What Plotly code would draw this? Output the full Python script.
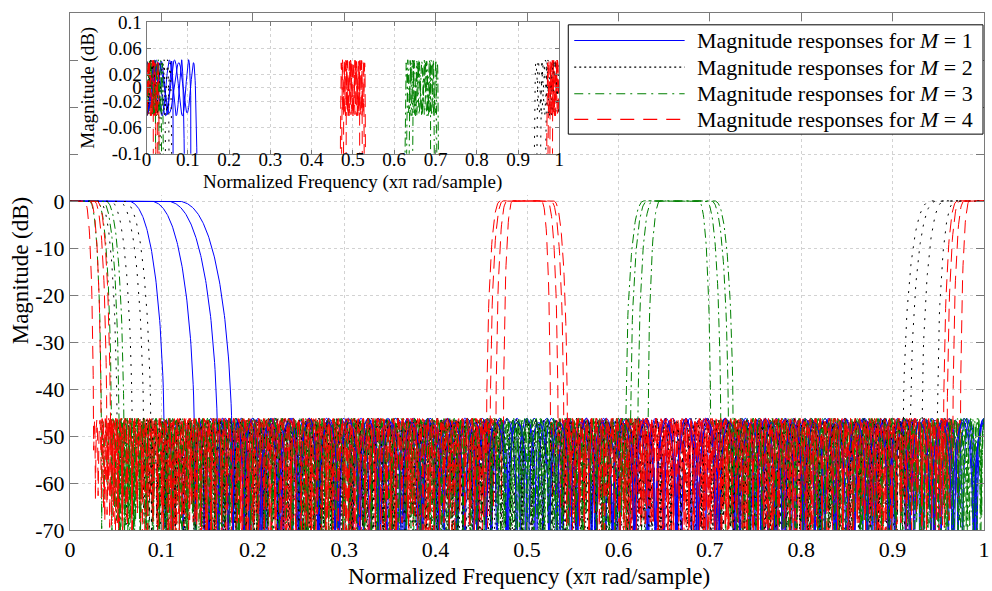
import numpy as np
import plotly.graph_objects as go

# ---- values ----
M_values = [1, 2, 3, 4]                        # interpolation factors (one legend entry each)
passband_edges = [0.065, 0.090, 0.108, 0.120]  # prototype low-pass passband edges (x pi)
stopband_edges = [0.103, 0.136, 0.161, 0.177]  # prototype low-pass stopband edges (x pi)
stopband_atten_db = 46.0                       # equiripple stop-band level
n_freq_points = 2048                           # frequency samples per response
series_names = ["Magnitude responses for <i>M</i> = 1",
                "Magnitude responses for <i>M</i> = 2",
                "Magnitude responses for <i>M</i> = 3",
                "Magnitude responses for <i>M</i> = 4"]
series_colors = ["#0000ff", "#000000", "#008000", "#ff0000"]
series_dash = ["solid", "2px,7px", "9px,4px,2px,4px", "13px,7px"]
legend_dash = ["solid", "2px,3px", "9px,5px,2px,5px", "14px,9px"]
main_xticks = [round(0.1 * k, 1) for k in range(11)]
main_yticks = list(range(-70, 41, 10))
inset_yticks = [-0.1, -0.06, -0.02, 0, 0.02, 0.06, 0.1]
inset_ytext = ["-0.1", "-0.06", "-0.02", "0", "0.02", "0.06", "0.1"]


def design_lowpass(wp, ws, atten_db, iters=300):
    """Near-equiripple linear-phase FIR (Lawson iteratively reweighted LS)."""
    A = atten_db + 2.0
    n = int(np.ceil((A - 13) / (14.6 * (ws - wp) / 2))) + 1
    if n % 2 == 0:
        n += 1
    L = (n - 1) // 2
    npass = max(40, int(16 * L * wp))
    nstop = max(200, int(16 * L * (1 - ws)))
    w = np.concatenate([np.linspace(0, wp * np.pi, npass), np.linspace(ws * np.pi, np.pi, nstop)])
    D = np.concatenate([np.ones(npass), np.zeros(nstop)])
    C = np.cos(np.outer(w, np.arange(L + 1)))
    v = np.ones(len(w)) / len(w)
    a = None
    for _ in range(iters):
        sw = np.sqrt(v)
        a = np.linalg.lstsq(C * sw[:, None], D * sw, rcond=None)[0]
        e = np.abs(C @ a - D)
        v = v * e + 1e-14
        v /= v.sum()
    return a


protos = [design_lowpass(wp, ws, stopband_atten_db) for wp, ws in zip(passband_edges, stopband_edges)]
f = np.linspace(0, 1, n_freq_points + 1)

curves = {}
for mi, M in enumerate(M_values):
    for pi_, a in enumerate(protos):
        k = np.arange(len(a))
        H = np.cos(np.outer(M * np.pi * f, k)) @ a
        curves[(mi, pi_)] = 20 * np.log10(np.maximum(np.abs(H), 1e-9))

fig = go.Figure()
for xa, ya in [("x", "y"), ("x2", "y2")]:
    for pi_ in range(len(protos)):
        for mi, M in enumerate(M_values):
            fig.add_trace(go.Scatter(
                x=f, y=curves[(mi, pi_)], mode="lines", xaxis=xa, yaxis=ya,
                line=dict(color=series_colors[mi], width=1.0, dash=series_dash[mi]),
                showlegend=False, hoverinfo="skip"))

W, Hh = 992, 591
ml, mr, mt, mb = 70, 3, 5, 61
pw, ph = W - ml - mr, Hh - mt - mb


def px(xp):
    return (xp - ml) / pw


def py(yp):
    return (Hh - mb - yp) / ph


serif = "Liberation Serif, Times New Roman, serif"
gray = "#7a7a7a"
grid = "#d2d2d2"

fig.update_layout(
    width=W, height=Hh, margin=dict(l=ml, r=mr, t=mt, b=mb),
    paper_bgcolor="white", plot_bgcolor="white",
    font=dict(family=serif, color="black"),
    xaxis=dict(domain=[0, 1], range=[0, 1], tickvals=main_xticks,
               ticktext=[("%g" % t) for t in main_xticks],
               ticks="inside", ticklen=8, tickcolor=gray, showline=True, linecolor=gray,
               mirror="ticks", showgrid=True, gridcolor=grid, griddash="dot",
               zeroline=False, tickfont=dict(size=22, family=serif, color="black")),
    yaxis=dict(domain=[0, 1], range=[-70, 40], tickvals=main_yticks,
               ticktext=[(str(t) if t <= 0 else "") for t in main_yticks],
               ticks="inside", ticklen=8, tickcolor=gray, showline=True, linecolor=gray,
               mirror="ticks", showgrid=True, gridcolor=grid, griddash="dot",
               zeroline=False, tickfont=dict(size=22, family=serif, color="black")),
    xaxis2=dict(anchor="y2", domain=[px(147), px(562)], range=[0, 1], tickvals=main_xticks,
                ticktext=[("%g" % t) for t in main_xticks], ticklabelstandoff=-12,
                ticks="inside", ticklen=4, tickcolor=gray, showline=True, linecolor=gray,
                mirror="ticks", showgrid=True, gridcolor=grid, griddash="dot",
                zeroline=False, tickfont=dict(size=19, family=serif, color="black")),
    yaxis2=dict(anchor="x2", domain=[py(148), py(14)], range=[-0.1, 0.1], tickvals=inset_yticks,
                ticktext=inset_ytext,
                ticks="inside", ticklen=4, tickcolor=gray, showline=True, linecolor=gray,
                mirror="ticks", showgrid=True, gridcolor=grid, griddash="dot",
                zeroline=False, tickfont=dict(size=19, family=serif, color="black")),
)

shapes = [
    # white backdrop of the inset figure (hides main grid under it)
    dict(type="rect", xref="x", yref="y", x0=0.002, x1=0.542, y0=1.3, y1=39.8,
         fillcolor="white", line=dict(width=0), layer="between"),
    # legend box
    dict(type="rect", xref="paper", yref="paper", x0=px(571), x1=px(988), y0=py(128), y1=py(17),
         fillcolor="white", line=dict(color="black", width=1), layer="above"),
]
rows_y = [33, 60, 87, 113]
annotations = []
for mi in range(len(M_values)):
    shapes.append(dict(type="line", xref="paper", yref="paper", x0=px(577), x1=px(688),
                       y0=py(rows_y[mi]), y1=py(rows_y[mi]),
                       line=dict(color=series_colors[mi], width=1.1, dash=legend_dash[mi]),
                       layer="above"))
    annotations.append(dict(xref="paper", yref="paper", x=px(698), y=py(rows_y[mi]),
                            xanchor="left", yanchor="middle", showarrow=False,
                            text=series_names[mi], font=dict(size=22, family=serif, color="black")))

annotations += [
    dict(xref="paper", yref="paper", x=px(532), y=py(577), xanchor="center", yanchor="middle",
         showarrow=False, text="Normalized Frequency (x\u03c0 rad/sample)",
         font=dict(size=23, family=serif, color="black")),
    dict(xref="paper", yref="paper", x=px(20), y=py(266), xanchor="center", yanchor="middle",
         showarrow=False, text="Magnitude (dB)", textangle=-90,
         font=dict(size=23, family=serif, color="black")),
    dict(xref="paper", yref="paper", x=px(354), y=py(177), xanchor="center", yanchor="middle",
         showarrow=False, text="Normalized Frequency (x\u03c0 rad/sample)",
         font=dict(size=19, family=serif, color="black")),
    dict(xref="paper", yref="paper", x=px(88), y=py(81), xanchor="center", yanchor="middle",
         showarrow=False, text="Magnitude (dB)", textangle=-90,
         font=dict(size=19, family=serif, color="black")),
]
fig.update_layout(shapes=shapes, annotations=annotations)

fig.write_html("out.html", config={"displayModeBar": False},
               post_script="document.body.style.margin='0px';")
